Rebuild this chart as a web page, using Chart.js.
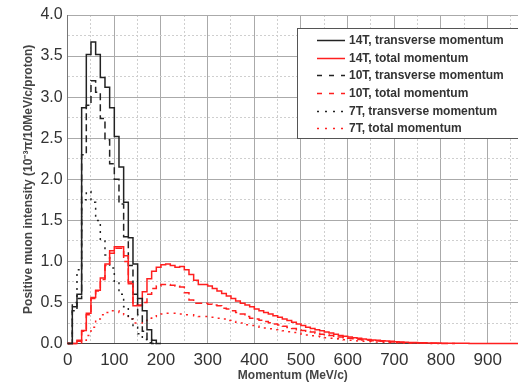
<!DOCTYPE html>
<html>
<head>
<meta charset="utf-8">
<script src="https://cdn.jsdelivr.net/npm/chart.js@4.4.1/dist/chart.umd.min.js"></script>
<style>
  html, body { margin: 0; padding: 0; background: #fff; }
</style>
</head>
<body>
<canvas id="myChart" width="518" height="384"></canvas>
<script>
// histogram bins are 10 MeV/c wide, starting at 0
const binWidth = 10;

const t14Trans = [0, 0.45, 0.6, 2.87, 3.52, 3.67, 3.52, 3.24, 3.12, 2.87,
    2.52, 2.15, 1.72, 1.29, 0.97, 0.55, 0.4, 0.17, 0.04, 0];

const t14Total = [0, 0, 0.04, 0.16, 0.37, 0.56, 0.65, 0.8, 0.97, 1.13,
    1.18, 1.18, 1.07, 0.73, 0.46, 0.46, 0.63, 0.79, 0.88, 0.93,
    0.96, 0.97, 0.95, 0.93, 0.94, 0.9, 0.84, 0.77, 0.72, 0.72,
    0.7, 0.67, 0.64, 0.61, 0.58, 0.55, 0.52, 0.49, 0.47, 0.45,
    0.42, 0.4, 0.38, 0.36, 0.34, 0.32, 0.3, 0.28, 0.26, 0.24,
    0.22, 0.2, 0.185, 0.17, 0.155, 0.14, 0.13, 0.115, 0.1, 0.09,
    0.08, 0.072, 0.064, 0.057, 0.05, 0.045, 0.04, 0.036, 0.032, 0.028,
    0.024, 0.02, 0.017, 0.014, 0.012, 0.01, 0.009, 0.008, 0.007, 0.006,
    0.005, 0.005, 0.004, 0.004, 0.003, 0.003, 0.002, 0.002, 0.001, 0.001,
    0, 0, 0, 0, 0, 0, 0];

const t10Trans = [0, 0.4, 0.55, 2.3, 2.9, 3.2, 3.06, 2.74, 2.48, 2.19,
    2.0, 1.7, 1.3, 0.95, 0.6, 0.35, 0.15, 0.05, 0];

const t10Total = [0, 0, 0.03, 0.15, 0.35, 0.55, 0.64, 0.78, 0.95, 1.1,
    1.16, 1.16, 1.0, 0.75, 0.48, 0.47, 0.5, 0.6, 0.67, 0.7,
    0.72, 0.72, 0.71, 0.7, 0.69, 0.62, 0.53, 0.49, 0.49, 0.49,
    0.48, 0.47, 0.46, 0.43, 0.42, 0.4, 0.38, 0.36, 0.33, 0.31,
    0.3, 0.285, 0.27, 0.255, 0.24, 0.225, 0.21, 0.195, 0.185, 0.17,
    0.16, 0.15, 0.14, 0.125, 0.115, 0.107, 0.1, 0.09, 0.08, 0.072,
    0.065, 0.058, 0.051, 0.045, 0.04, 0.035, 0.031, 0.028, 0.024, 0.02,
    0.016, 0.014, 0.012, 0.01, 0.009, 0.007, 0.006, 0.005, 0.004, 0.003,
    0.002, 0.001, 0];

const t7Trans = [0, 0.5, 0.9, 1.75, 1.85, 1.72, 1.5, 1.25, 1.08, 0.92,
    0.75, 0.6, 0.45, 0.3, 0.2, 0.12, 0.05, 0.01, 0];

const t7Total = [0, 0, 0.01, 0.04, 0.1, 0.2, 0.3, 0.35, 0.38, 0.4,
    0.4, 0.38, 0.35, 0.3, 0.25, 0.25, 0.28, 0.31, 0.33, 0.35,
    0.36, 0.37, 0.37, 0.37, 0.36, 0.35, 0.35, 0.34, 0.33, 0.33,
    0.32, 0.32, 0.31, 0.3, 0.28, 0.27, 0.26, 0.25, 0.23, 0.22,
    0.21, 0.2, 0.19, 0.18, 0.17, 0.16, 0.155, 0.145, 0.135, 0.125,
    0.115, 0.105, 0.095, 0.088, 0.08, 0.072, 0.065, 0.058, 0.052, 0.046,
    0.041, 0.036, 0.032, 0.028, 0.025, 0.022, 0.019, 0.016, 0.014, 0.012,
    0.01, 0.008, 0.007, 0.006, 0.005, 0.004, 0.003, 0.002, 0.001, 0];

const seriesLabels = ['14T, transverse momentum', '14T, total momentum',
    '10T, transverse momentum', '10T, total momentum',
    '7T, transverse momentum', '7T, total momentum'];

const xMax = 965;
const yMax = 4;

const black = '#222222';
const red = '#ff1f1f';

function toSteps(values) {
    const pts = values.map((v, i) => ({ x: i * binWidth, y: v }));
    pts.push({ x: values.length * binWidth, y: values[values.length - 1] });
    return pts;
}

function histLine(label, values, color, dash, legendDash) {
    return {
        label: label,
        data: toSteps(values),
        borderColor: color,
        backgroundColor: color,
        borderWidth: 1.5,
        borderDash: dash,
        legendDash: legendDash,
        stepped: true,
        pointRadius: 0,
        fill: false,
        clip: { left: 2, top: 2, right: 0, bottom: 2 }
    };
}

// legend drawn inside the plot, top right, like the original
const insideLegend = {
    id: 'insideLegend',
    afterDatasetsDraw(chart) {
        const { ctx, chartArea } = chart;
        const left = chartArea.right - 221;
        const top = chartArea.top + 13;
        ctx.save();
        ctx.fillStyle = '#ffffff';
        ctx.fillRect(left, top, 240, 110);
        ctx.strokeStyle = '#555555';
        ctx.lineWidth = 1;
        ctx.strokeRect(left + 0.5, top + 0.5, 240, 110);
        ctx.font = 'bold 12px "Liberation Sans", Arial, sans-serif';
        ctx.textBaseline = 'middle';
        ctx.fillStyle = '#333333';
        chart.data.datasets.forEach((ds, i) => {
            const y = Math.round(top + 12 + i * 17.65) + 0.5;
            ctx.beginPath();
            ctx.setLineDash(ds.legendDash);
            ctx.strokeStyle = ds.borderColor;
            ctx.lineWidth = 1.5;
            ctx.moveTo(left + 20, y);
            ctx.lineTo(left + 48, y);
            ctx.stroke();
            ctx.setLineDash([]);
            ctx.fillText(ds.label, left + 52, y);
        });
        ctx.restore();
    }
};

Chart.defaults.font.family = '"Liberation Sans", Arial, sans-serif';

const ctx = document.getElementById('myChart');
const myChart = new Chart(ctx, {
    type: 'line',
    data: {
        datasets: [
            histLine(seriesLabels[0], t14Trans, black, [], []),
            histLine(seriesLabels[1], t14Total, red, [], []),
            histLine(seriesLabels[2], t10Trans, black, [7, 4], [5, 7]),
            histLine(seriesLabels[3], t10Total, red, [7, 4], [5, 7]),
            histLine(seriesLabels[4], t7Trans, black, [2, 5], [2, 6]),
            histLine(seriesLabels[5], t7Total, red, [2, 5], [2, 6])
        ]
    },
    options: {
        responsive: false,
        animation: false,
        layout: {
            padding: { left: 18, right: 0, top: 15, bottom: 0 }
        },
        plugins: {
            legend: { display: false },
            tooltip: { enabled: false }
        },
        scales: {
            x: {
                type: 'linear',
                min: 0,
                max: xMax,
                ticks: {
                    stepSize: 100,
                    includeBounds: false,
                    padding: 8,
                    color: '#333',
                    font: { size: 17, lineHeight: 1 }
                },
                grid: { color: '#aaaaaa', drawTicks: false },
                border: { color: '#444', width: 1 },
                title: {
                    display: true,
                    text: 'Momentum (MeV/c)',
                    color: '#444',
                    font: { size: 12, weight: 'bold' },
                    // title sits tight under the tick labels in the original
                    padding: { top: -8, bottom: 1 }
                }
            },
            xMinor: {
                type: 'linear',
                position: 'bottom',
                min: 0,
                max: xMax,
                ticks: { display: false, stepSize: 50, includeBounds: false },
                grid: {
                    drawTicks: false,
                    color: c => (c.tick && c.tick.value % 100 === 0) ? 'rgba(0,0,0,0)' : '#cfcfcf'
                },
                border: { display: false, dash: [2, 2] }
            },
            y: {
                min: 0,
                max: yMax,
                ticks: {
                    stepSize: 0.5,
                    padding: 5,
                    color: '#333',
                    font: { size: 16 },
                    callback: v => v.toFixed(1)
                },
                grid: { color: '#aaaaaa', drawTicks: false },
                border: { color: '#777', width: 1 },
                title: {
                    display: true,
                    text: 'Positive muon intensity (10⁻³π/10MeV/c/proton)',
                    color: '#444',
                    font: { size: 12, weight: 'bold' },
                    padding: { top: 3, bottom: 0 }
                }
            },
            yMinor: {
                position: 'left',
                min: 0,
                max: yMax,
                ticks: { display: false, stepSize: 0.25 },
                grid: {
                    drawTicks: false,
                    color: c => (c.tick && Math.abs(c.tick.value * 2 - Math.round(c.tick.value * 2)) < 1e-6) ? 'rgba(0,0,0,0)' : '#cfcfcf'
                },
                border: { display: false, dash: [2, 2] }
            }
        }
    },
    plugins: [insideLegend]
});
</script>
</body>
</html>
